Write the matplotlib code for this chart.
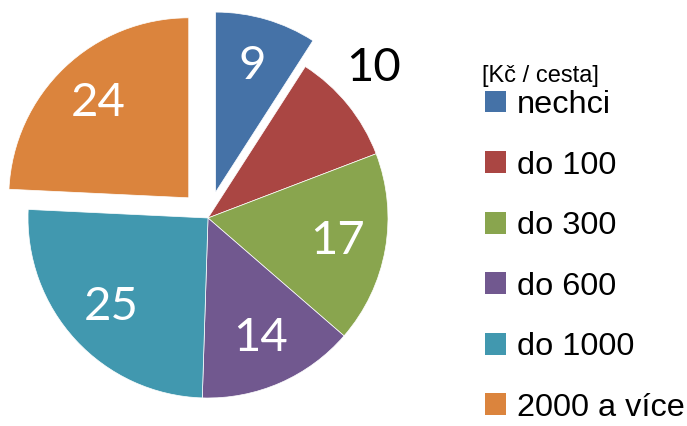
import numpy as np
import matplotlib.pyplot as plt
from matplotlib.patches import Patch

# data
categories = ['nechci', 'do 100', 'do 300', 'do 600', 'do 1000', '2000 a více']
values = [9, 10, 17, 14, 25, 24]
explode = [0.15, 0, 0, 0, 0, 0.155]
colors = ['#4572A7', '#AA4643', '#89A54E', '#71588F', '#4198AF', '#DB843D']
legend_title = '[Kč / cesta]'

fig = plt.figure(figsize=(6.87, 4.26), dpi=100)
W, H = 687, 426
cx, cy, r = 208, 218, 180
ax = fig.add_axes([(cx - r) / W, (H - cy - r) / H, 2 * r / W, 2 * r / H])

total = sum(values)
wedges, texts, autotexts = ax.pie(
    values, explode=explode, colors=colors, startangle=90, counterclock=False,
    autopct=lambda p: f'{round(p * total / 100):d}', pctdistance=0.73,
    wedgeprops=dict(edgecolor='white', linewidth=0.5),
    textprops=dict(color='white', fontsize=34, family=['Lato', 'DejaVu Sans']),
)
ax.set_xlim(-1, 1)
ax.set_ylim(-1, 1)
ax.set_aspect('equal')
for w in wedges:
    w.set_clip_on(False)

# second slice label sits outside the pie in black
w = wedges[1]
ang = np.deg2rad((w.theta1 + w.theta2) / 2 + 3)
autotexts[1].set_position((1.24 * np.cos(ang), 1.24 * np.sin(ang)))
autotexts[1].set_color('black')
for t in autotexts:
    t.set_clip_on(False)

handles = [Patch(facecolor=c, edgecolor='none') for c in colors]
leg = fig.legend(handles, categories, loc='upper left',
                 bbox_to_anchor=(485 / W, 1 - 90 / H), frameon=False,
                 prop=dict(family='Liberation Sans', size=23.4),
                 handlelength=0.65, handleheight=0.65, handletextpad=0.34,
                 labelspacing=0.94, borderpad=0, borderaxespad=0)
fig.text(482 / W, 1 - 76 / H, legend_title, family='Liberation Sans',
         fontsize=17, ha='left', va='center')

fig.savefig('out.png', dpi=100)
